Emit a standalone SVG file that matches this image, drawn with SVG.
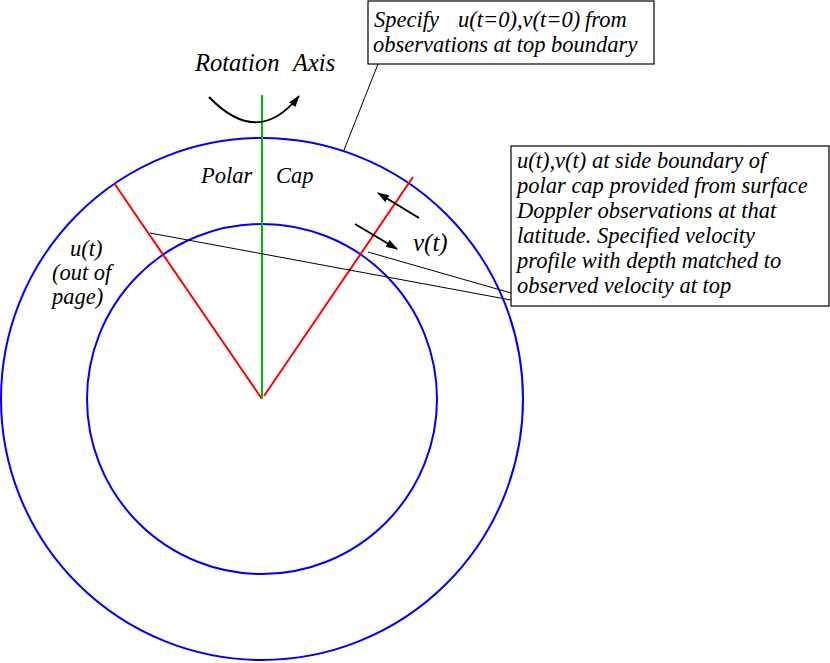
<svg xmlns="http://www.w3.org/2000/svg" width="830" height="663" viewBox="0 0 830 663">
<defs>
<style>
text{font-family:"Liberation Serif","Times New Roman",serif;font-style:italic;fill:#000;}
.t{font-size:22.5px;}
.box{fill:#fff;stroke:#000;stroke-width:1.2;}
.lead{stroke:#000;stroke-width:1;fill:none;}
.circ{fill:none;stroke:#0000ff;stroke-width:2;}
.red{stroke:#ff0000;stroke-width:2;}
.arr{stroke:#000;stroke-width:2;fill:none;marker-end:url(#ah);}
</style>
<marker id="ah" viewBox="0 0 12 8" refX="11" refY="4" markerWidth="12" markerHeight="8" markerUnits="userSpaceOnUse" orient="auto">
<path d="M0,0 L12,4 L0,8 Z" fill="#000"/>
</marker>
</defs>
<rect width="830" height="663" fill="#fff"/>
<g id="outer-circle"><circle class="circ" cx="262" cy="399" r="261"/></g>
<g id="inner-circle"><circle class="circ" cx="262" cy="399" r="175"/></g>
<g id="polar-cap-boundaries">
<line class="red" x1="114" y1="183" x2="262" y2="399"/>
<line class="red" x1="264" y1="396" x2="413" y2="177"/>
</g>
<g id="rotation-axis">
<line x1="262" y1="95" x2="262" y2="399" stroke="#00bb00" stroke-width="2"/>
<path class="arr" d="M209,97 Q258,148 299,96"/>
<text x="195" y="71" font-size="24.5">Rotation<tspan x="293">Axis</tspan></text>
</g>
<g id="polar-cap-label"><text class="t" x="201" y="183">Polar<tspan x="276">Cap</tspan></text></g>
<g id="u-label">
<text class="t" x="70" y="256">u(t)</text>
<text class="t" x="52" y="280">(out of</text>
<text class="t" x="52" y="304">page)</text>
</g>
<g id="v-label">
<path class="arr" d="M419,218 L378,193"/>
<path class="arr" d="M355,224 L397,249"/>
<text x="413" y="251" font-size="25">v(t)</text>
</g>
<g id="connectors">
<line class="lead" x1="378" y1="64" x2="344" y2="150"/>
<line class="lead" x1="368" y1="252" x2="511" y2="293"/>
<line class="lead" x1="150" y1="233" x2="511" y2="300"/>
</g>
<g id="top-note">
<rect class="box" x="368" y="1" width="286" height="63"/>
<text class="t" x="374" y="27">Specify<tspan x="458">u(t=0),v(t=0)</tspan><tspan x="585">from</tspan></text>
<text class="t" x="373" y="52">observations at top boundary</text>
</g>
<g id="side-note">
<rect class="box" x="511" y="146" width="318" height="160"/>
<text class="t" x="517" y="168">u(t),v(t) at side boundary of</text>
<text class="t" x="517" y="193">polar cap provided from surface</text>
<text class="t" x="517" y="218">Doppler observations at that</text>
<text class="t" x="517" y="243">latitude. Specified velocity</text>
<text class="t" x="517" y="268">profile with depth matched to</text>
<text class="t" x="517" y="293">observed velocity at top</text>
</g>
</svg>
